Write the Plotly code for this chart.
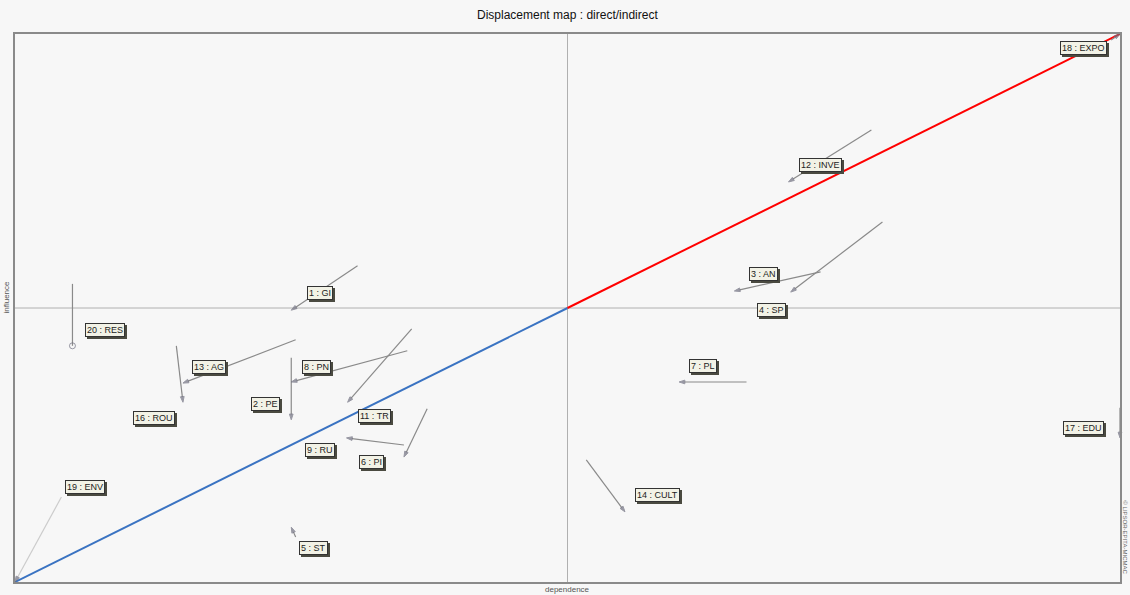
import plotly.graph_objects as go

# ---- data (dependence = x, influence = y, both in % of axis span) ----
labels = ["18 : EXPO", "12 : INVE", "4 : SP", "3 : AN", "7 : PL", "14 : CULT",
          "17 : EDU", "20 : RES", "13 : AG", "16 : ROU", "2 : PE", "1 : GI",
          "8 : PN", "11 : TR", "9 : RU", "6 : PI", "5 : ST", "19 : ENV"]
# direct position (start) and indirect position (end of arrow)
x_direct   = [99.2, 77.5, 78.5, 72.9, 66.2, 51.7, 100.0, 5.2, 25.4, 14.6, 25.0, 31.0, 35.5, 35.9, 35.2, 37.3, 25.4, 4.2]
y_direct   = [98.9, 82.5, 65.7, 56.6, 36.5, 22.3, 31.8, 54.4, 44.2, 43.1, 40.9, 57.7, 42.2, 46.2, 25.0, 31.6, 8.2, 15.5]
x_indirect = [100.0, 70.0, 70.2, 65.1, 60.1, 55.2, 100.0, 5.2, 15.2, 15.2, 25.0, 25.0, 25.0, 30.1, 30.0, 35.2, 25.0, 0.0]
y_indirect = [100.0, 73.0, 52.9, 53.1, 36.5, 12.8, 26.3, 43.1, 36.3, 32.8, 29.6, 49.6, 36.5, 32.8, 26.3, 22.8, 10.0, 0.0]
# label anchor positions (same axis units)
label_x = [96.7, 72.9, 68.5, 67.7, 62.3, 58.1, 96.7, 8.1, 17.6, 12.6, 22.7, 27.6, 27.3, 32.5, 27.6, 32.3, 27.0, 6.3]
label_y = [97.4, 76.1, 49.6, 56.2, 39.4, 15.9, 28.1, 46.0, 39.2, 29.9, 32.5, 52.7, 39.2, 30.3, 24.1, 21.9, 6.2, 17.3]

title_text = "Displacement map : direct/indirect"
x_title = "dependence"
y_title = "influence"
credit = "© LIPSOR-EPITA-MICMAC"

fig = go.Figure()

# diagonal
fig.add_trace(go.Scatter(x=[0, 50], y=[0, 50], mode="lines",
                         line=dict(color="#3a73c2", width=2), hoverinfo="skip", showlegend=False))
fig.add_trace(go.Scatter(x=[50, 100], y=[50, 100], mode="lines",
                         line=dict(color="#ff0000", width=2), hoverinfo="skip", showlegend=False))

# displacement arrows
for i, lab in enumerate(labels):
    faint = (i == len(labels) - 1)
    col = "#cccccc" if faint else "#8a8a8a"
    end_sym = "circle-open" if lab.startswith("20") else "arrow"
    fig.add_trace(go.Scatter(
        x=[x_direct[i], x_indirect[i]], y=[y_direct[i], y_indirect[i]],
        mode="lines+markers",
        line=dict(color=col, width=1.2, dash="solid"),
        marker=dict(symbol=["circle", end_sym], size=[3, 6], angleref="previous",
                    color=["#888888", "#707080"], line=dict(width=1, color="#707080")),
        cliponaxis=False, hoverinfo="skip", showlegend=False, name=lab))

annotations = []
for i, lab in enumerate(labels):
    # shadow
    annotations.append(dict(x=label_x[i], y=label_y[i], xref="x", yref="y", text=lab,
                            showarrow=False, xshift=2, yshift=-2,
                            font=dict(family="Liberation Sans, Arial", size=9, color="#4a4a40"),
                            bgcolor="#4a4a40", borderpad=1, bordercolor="#4a4a40", borderwidth=1))
    annotations.append(dict(x=label_x[i], y=label_y[i], xref="x", yref="y", text=lab,
                            showarrow=False,
                            font=dict(family="Liberation Sans, Arial", size=9, color="#222222"),
                            bgcolor="#f2f2e6", borderpad=1, bordercolor="#333333", borderwidth=1))

annotations += [
    dict(x=0.5, y=1, xref="paper", yref="paper", yanchor="bottom", yshift=10, showarrow=False,
         text=title_text, font=dict(family="Liberation Sans, Arial", size=12, color="#111111")),
    dict(x=0.5, y=0, xref="paper", yref="paper", yanchor="top", yshift=-1, showarrow=False,
         text=x_title, font=dict(family="Liberation Sans, Arial", size=8, color="#555555")),
    dict(x=0, y=0.52, xref="paper", yref="paper", xanchor="right", xshift=-2, showarrow=False,
         text=y_title, textangle=-90, font=dict(family="Liberation Sans, Arial", size=8, color="#555555")),
    dict(x=1, y=0.01, xref="paper", yref="paper", xanchor="left", yanchor="bottom", xshift=0,
         showarrow=False, text=credit, textangle=90,
         font=dict(family="Liberation Sans, Arial", size=6, color="#666666")),
]

shapes = [
    dict(type="line", xref="x", yref="paper", x0=50, x1=50, y0=0, y1=1,
         line=dict(color="#b0b0b0", width=1), layer="below"),
    dict(type="line", xref="paper", yref="y", x0=0, x1=1, y0=50, y1=50,
         line=dict(color="#b0b0b0", width=1), layer="below"),
]

fig.update_layout(
    width=1130, height=595,
    margin=dict(l=15, r=8, t=34, b=13),
    paper_bgcolor="#f7f7f7", plot_bgcolor="#f7f7f7",
    annotations=annotations, shapes=shapes,
    xaxis=dict(range=[0, 100], showgrid=False, zeroline=False, showticklabels=False, ticks="",
               showline=True, mirror=True, linecolor="#8a8a8a", linewidth=2, fixedrange=True),
    yaxis=dict(range=[0, 100], showgrid=False, zeroline=False, showticklabels=False, ticks="",
               showline=True, mirror=True, linecolor="#8a8a8a", linewidth=2, fixedrange=True),
    showlegend=False,
)

# remove the default page margin so the figure fills the window exactly
fig.write_html("out.html", config={"displayModeBar": False},
               post_script="document.body.style.margin='0px';document.body.style.overflow='hidden';")
